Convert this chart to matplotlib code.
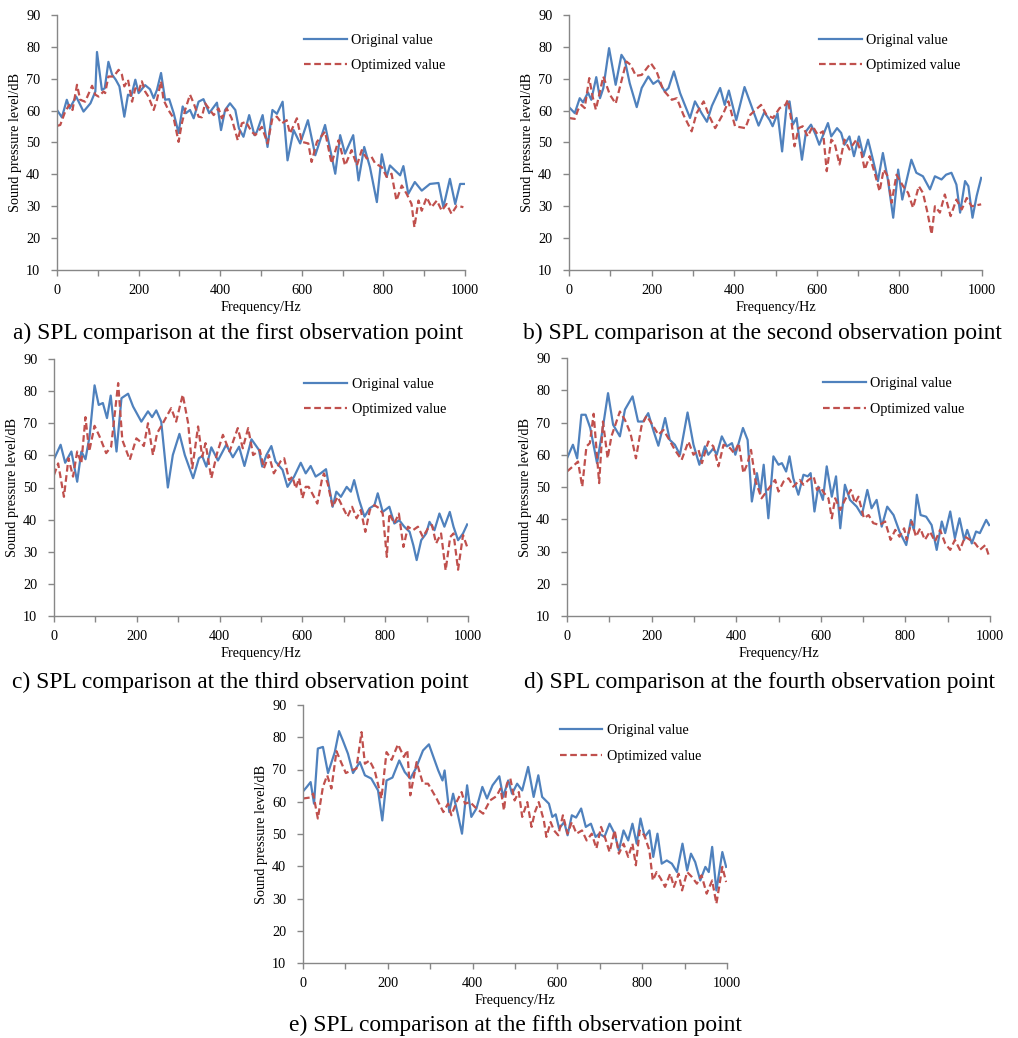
import matplotlib
matplotlib.use("Agg")
import matplotlib.pyplot as plt
from matplotlib.ticker import MultipleLocator

plt.rcParams["font.family"] = ["Liberation Serif", "DejaVu Serif"]

BLUE = "#4F81BD"
RED = "#C0504D"
GREY = "#878787"

# ---- a) first observation point ----
A_ORIG_HZ = [0, 12, 24, 31, 47, 65, 82, 94, 98, 110, 117, 126, 135, 144, 153, 165, 174, 182, 192, 200,
             216, 228, 237, 245, 255, 265, 275, 286, 298, 308, 316, 326, 335, 347, 359, 373, 392, 402, 412, 424,
             437, 446, 457, 471, 484, 490, 504, 516, 528, 539, 553, 565, 580, 596, 615, 633, 657, 682, 694, 706,
             726, 739, 753, 767, 784, 796, 808, 816, 828, 841, 849, 861, 877, 894, 914, 935, 947, 963, 976, 988, 1000]
A_ORIG_DB = [60.2, 57.9, 63.4, 60.7, 64.4, 59.7, 62.3, 66.0, 78.4, 66.5, 67.0, 75.3, 71.3, 69.7, 67.6, 58.1, 65.0, 64.6, 69.7, 65.5,
             68.0, 66.7, 63.9, 66.5, 71.8, 63.4, 63.6, 59.2, 53.0, 61.3, 59.2, 60.2, 57.6, 62.8, 63.6, 59.2, 62.5, 53.9, 60.2, 62.3,
             60.2, 54.4, 51.8, 58.6, 52.3, 53.4, 58.6, 48.6, 60.2, 59.0, 62.8, 44.4, 53.9, 49.7, 57.0, 46.0, 55.5, 40.2, 52.3, 46.5,
             52.3, 38.1, 48.6, 42.3, 31.3, 46.3, 39.2, 42.8, 41.3, 39.7, 42.6, 33.9, 37.6, 34.9, 37.0, 37.3, 29.7, 38.6, 30.7, 37.0, 37.0]
A_OPT_HZ = [0, 8, 20, 30, 38, 49, 57, 69, 86, 94, 102, 114, 118, 126, 139, 151, 159, 165, 174, 184,
            192, 200, 208, 216, 224, 237, 245, 255, 261, 273, 286, 298, 306, 314, 326, 335, 347, 355, 363, 375,
            384, 396, 404, 416, 428, 443, 453, 463, 477,
            486, 502, 516, 528, 539, 551, 563, 571, 588, 600, 616, 624, 637, 657, 673, 690, 706, 722, 735, 747,
            759, 771, 780, 796, 808, 820, 832, 845, 857, 869, 876, 886, 894, 906, 918, 931, 943, 955, 967, 980, 996]
A_OPT_DB = [55.2, 55.5, 59.7, 61.8, 60.2, 68.1, 63.4, 62.8, 67.8, 65.0, 64.4, 66.0, 65.5, 70.7, 70.7, 72.8, 71.3, 67.6, 69.7, 62.8,
            67.0, 66.0, 69.2, 66.0, 64.4, 60.2, 63.4, 69.2, 63.4, 60.2, 57.6, 50.2, 56.0, 60.2, 65.0, 62.3, 58.1, 57.9, 62.3, 60.2,
            58.6, 60.7, 57.6, 60.7, 57.6, 50.7, 56.0, 56.5, 53.4,
            52.3, 54.9, 49.7, 57.6, 58.1, 56.0, 57.0, 52.8, 57.6, 50.2, 49.7, 43.9, 50.2, 53.4, 43.4, 50.7, 42.8, 47.6, 42.8, 47.6,
            45.0, 45.5, 43.4, 42.3, 39.2, 40.2, 31.8, 36.5, 33.9, 30.7, 23.4, 31.8, 28.6, 32.8, 29.7, 31.8, 28.6, 30.7, 27.6, 30.2, 29.7]

# ---- b) second observation point ----
B_ORIG_HZ = [0, 14, 26, 34, 46, 54, 66, 75, 83, 97, 113, 127, 135, 147, 164, 176, 192, 204, 216, 232,
             241, 254, 269, 293, 305, 322, 334, 346, 366, 377, 387, 405, 425, 459, 473, 486,
             493, 505, 516, 527, 534, 542, 551, 564, 574, 586, 597, 606, 627, 635, 649, 659, 667, 679, 690, 702,
             713, 724, 736, 748, 760, 772, 785, 797, 807, 817, 829, 841, 857, 874, 886, 902, 913, 926, 938, 947,
             959, 967, 977, 987, 998]
B_ORIG_DB = [61.1, 59.2, 63.9, 62.6, 65.7, 63.4, 70.5, 63.9, 67.0, 79.6, 68.1, 77.5, 75.9, 68.6, 61.1, 67.1, 70.7, 68.4, 69.5, 66.0,
             67.1, 72.3, 65.5, 57.7, 62.9, 59.0, 56.5, 61.5, 67.1, 61.8, 66.3, 57.0, 67.4, 55.3, 59.5, 57.0,
             55.1, 59.2, 47.2, 61.8, 62.9, 55.6, 57.7, 44.6, 53.5, 55.6, 52.5, 49.3, 56.1, 51.9, 54.5, 53.0, 49.3, 51.9, 45.7, 51.9,
             45.7, 50.9, 44.6, 37.9, 46.7, 38.4, 26.4, 41.5, 32.1, 37.9, 44.6, 40.5, 39.4, 35.3, 39.4, 38.4, 39.9, 40.5, 36.8, 28.0,
             37.9, 36.3, 26.4, 33.2, 38.9]
B_OPT_HZ = [0, 14, 22, 30, 38, 49, 57, 65, 83, 99, 113, 139, 149, 162, 176, 198, 212, 228, 249, 261,
            277, 297, 309, 326, 338, 354, 374, 386, 402, 427, 439, 465,
            478, 494, 510, 524, 530, 538, 546, 556, 566, 578, 590, 602, 615, 624, 635, 643, 655, 667, 679, 696,
            708, 716, 728, 740, 752, 762, 772, 781, 793, 809, 821, 833, 847, 857, 868, 878, 886, 898, 910, 924,
            938, 951, 963, 975, 998]
B_OPT_DB = [57.7, 57.4, 60.3, 61.8, 60.8, 70.2, 64.5, 60.3, 70.7, 65.0, 62.2, 75.4, 74.4, 70.9, 71.2, 74.9, 72.3, 66.5, 63.4, 63.9,
            58.7, 53.5, 59.2, 62.9, 58.7, 54.5, 59.2, 62.9, 55.1, 54.5, 58.7, 61.8,
            58.7, 57.7, 60.8, 61.8, 63.4, 57.2, 48.8, 54.5, 55.1, 51.9, 55.1, 52.5, 53.5, 41.0, 50.9, 49.9, 43.1, 50.9, 47.8, 50.9,
            46.7, 41.5, 45.7, 40.5, 34.7, 41.5, 39.4, 31.1, 39.9, 36.3, 34.2, 29.5, 36.3, 34.2, 28.0, 21.2, 30.0, 28.0, 33.7, 26.9,
            32.1, 29.0, 32.6, 30.0, 30.6]

# ---- c) third observation point ----
C_ORIG_HZ = [0, 16, 27, 42, 56, 66, 76, 86, 98, 108, 118, 128, 137, 151, 163, 179, 191, 211, 227, 237,
             247, 259, 275, 287, 303, 316, 336, 350, 358, 368, 380, 396, 416, 432, 447, 460, 477, 495,
             503, 513, 525, 535, 552, 564, 580, 596, 608, 620, 632, 644, 657, 673, 682, 693, 707, 717, 725, 737,
             750, 762, 774, 782, 794, 810, 822, 834, 846, 859, 868, 876, 887, 899, 907, 919, 931, 943, 956, 965,
             976, 988, 998]
C_ORIG_DB = [58.8, 63.3, 57.7, 61.2, 51.8, 61.2, 58.8, 66.0, 81.8, 75.7, 76.3, 71.6, 78.6, 61.2, 77.8, 79.2, 75.2, 70.5, 73.7, 71.9,
             74.0, 70.5, 50.0, 60.1, 66.7, 60.1, 52.9, 59.1, 59.8, 56.5, 62.5, 58.4, 63.3, 59.4, 62.7, 56.7, 65.0, 61.7,
             56.5, 60.1, 62.9, 58.1, 55.5, 50.2, 53.4, 57.7, 54.4, 56.7, 53.4, 54.4, 55.7, 44.0, 48.7, 47.1, 50.2, 48.7, 52.3, 46.1,
             40.9, 43.5, 44.5, 48.2, 42.4, 44.0, 38.8, 39.8, 37.8, 36.2, 32.0, 27.4, 33.6, 35.7, 39.3, 36.7, 41.9, 37.8, 42.4, 37.8,
             33.6, 35.7, 38.5]
C_OPT_HZ = [0, 10, 24, 35, 46, 56, 66, 76, 85, 98, 110, 126, 138, 155, 165, 183, 199, 208, 217, 227,
            239, 249, 263, 283, 295, 311, 324, 334, 348, 358, 366, 380, 394, 408, 424, 444, 456, 469, 481, 497,
            507, 519, 531, 547, 556, 568, 576, 584, 592, 600, 608, 615, 626, 636, 647, 652, 661, 673, 685, 697,
            709, 720, 731, 741, 752, 763, 774, 786, 794, 804, 810, 822, 833, 844, 855, 867, 879, 891, 903, 913,
            923, 935, 946, 957, 965, 976, 988, 998]
C_OPT_DB = [53.9, 57.5, 47.1, 59.1, 53.4, 61.2, 57.5, 71.9, 61.2, 69.2, 65.9, 60.7, 62.7, 82.5, 64.8, 58.6, 65.3, 64.3, 62.9, 70.0,
            60.1, 66.9, 70.0, 74.7, 70.5, 78.9, 70.0, 56.0, 69.0, 59.6, 63.8, 52.9, 60.7, 66.4, 61.2, 68.5, 62.2, 68.5, 60.1, 61.7,
            56.0, 60.1, 54.4, 58.1, 59.1, 52.3, 53.4, 49.7, 52.9, 46.6, 50.2, 50.2, 47.6, 45.0, 52.3, 54.4, 51.3, 44.0, 47.1, 44.0,
            40.9, 44.0, 40.4, 43.0, 36.2, 43.0, 44.5, 43.5, 41.9, 28.4, 41.9, 38.8, 41.9, 31.5, 37.8, 36.7, 37.8, 34.6, 37.2, 38.3,
            32.6, 35.7, 24.2, 34.6, 35.7, 24.4, 35.2, 31.5]

# ---- d) fourth observation point ----
D_ORIG_HZ = [0, 14, 24, 34, 44, 55, 71, 84, 97, 109, 125, 137, 155, 168, 180, 192, 205, 216, 232, 243,
             255, 267, 285, 299, 313, 326, 334, 346, 354, 366, 378, 390, 398, 416, 427, 437, 449,
             457, 465, 476, 488, 500, 508, 518, 526, 535, 547, 559, 569, 576, 585, 594, 605, 614, 626, 636, 646,
             657, 669, 685, 697, 710, 720, 732, 744, 757, 772, 786, 802, 813, 820, 827, 836, 849, 862, 874, 886,
             894, 906, 917, 928, 939, 946, 957, 967, 976, 991, 998]
D_ORIG_DB = [58.9, 63.1, 58.9, 72.4, 72.4, 68.3, 57.4, 67.7, 79.1, 69.3, 65.7, 74.0, 78.1, 70.3, 70.3, 72.9, 67.2, 62.8, 71.4, 64.6,
             63.1, 60.0, 73.1, 63.1, 56.9, 62.6, 60.0, 62.0, 60.0, 65.7, 62.6, 63.6, 60.0, 68.3, 64.6, 45.5, 54.3,
             48.1, 56.9, 40.3, 59.5, 56.9, 57.4, 54.8, 59.5, 52.7, 47.6, 53.8, 53.3, 54.3, 42.4, 50.1, 46.0, 56.4, 47.0, 53.3, 37.2,
             50.7, 46.0, 43.9, 41.3, 49.1, 43.4, 46.0, 37.7, 43.9, 41.3, 36.2, 32.0, 39.8, 36.7, 47.6, 41.3, 40.8, 38.2, 30.5, 39.3,
             35.7, 42.4, 34.1, 40.3, 33.6, 36.7, 32.5, 36.2, 35.7, 39.8, 38.2]
D_OPT_HZ = [0, 14, 26, 36, 46, 54, 63, 76, 85, 96, 105, 125, 137, 150, 163, 176, 188, 202, 216, 228,
            242, 255, 271, 287, 299, 311, 319, 334, 346, 358, 370, 386, 395, 406, 417, 427, 435, 446, 460,
            480, 492, 500, 512, 524, 535, 550, 559, 571, 583, 591, 598, 608, 618, 626, 634, 646, 657, 671, 681,
            689, 702, 713, 724, 739, 752, 765, 776, 786, 797, 803, 815, 825, 835, 846, 858, 870, 882, 894, 906,
            917, 929, 941, 953, 965, 976, 989, 998]
D_OPT_DB = [54.8, 56.4, 57.9, 50.1, 62.6, 63.6, 72.7, 51.2, 70.3, 58.9, 65.7, 73.4, 70.8, 66.7, 58.9, 68.8, 72.1, 69.3, 66.2, 67.7,
            64.6, 61.5, 58.4, 64.1, 60.0, 61.5, 57.4, 64.1, 62.6, 56.4, 63.1, 62.0, 60.5, 63.6, 54.3, 57.4, 61.5, 51.7, 46.5,
            50.1, 52.2, 48.6, 51.7, 52.7, 50.1, 52.2, 50.7, 52.2, 53.3, 49.1, 50.1, 48.1, 46.5, 40.3, 46.5, 42.9, 46.0, 49.1, 45.0,
            47.0, 40.3, 41.3, 38.8, 38.2, 39.3, 33.6, 36.7, 34.6, 37.2, 33.6, 39.3, 34.6, 37.2, 33.6, 36.2, 33.1, 36.7, 32.5, 30.5,
            33.6, 30.5, 34.6, 33.6, 32.5, 30.5, 32.0, 28.4]

# ---- e) fifth observation point ----
E_ORIG_HZ = [0, 9, 18, 26, 35, 47, 59, 75, 85, 94, 106, 118, 134, 146, 161, 177, 187, 197, 211, 227,
             240, 253, 266, 283, 297, 307, 319, 329, 334, 345, 354, 364, 375, 387, 397, 409, 423, 434, 447, 463,
             472, 484,
             493, 505, 517, 531, 544, 555, 564, 580, 588, 596, 604, 616, 624, 634, 644, 656, 667, 679, 690, 699,
             711, 723, 735, 745, 756, 767, 777, 787, 796, 806, 817, 826, 836, 846, 858, 870, 882, 895, 906, 915,
             925, 937, 949, 957, 965, 975, 989, 998]
E_ORIG_DB = [63.2, 64.6, 66.1, 59.4, 76.5, 77.0, 68.9, 75.4, 81.9, 79.0, 74.9, 68.9, 72.3, 68.2, 67.2, 63.5, 54.2, 66.6, 67.5, 72.8,
             69.2, 67.2, 70.3, 75.9, 77.8, 74.1, 69.7, 66.6, 69.7, 56.8, 62.5, 56.8, 50.1, 65.1, 55.3, 57.9, 64.6, 61.0, 65.1, 67.9,
             61.5, 66.6,
             62.5, 65.6, 63.5, 70.8, 61.5, 68.2, 61.5, 59.4, 55.3, 56.1, 51.7, 53.7, 49.6, 55.8, 55.1, 57.9, 52.2, 53.2, 49.1, 50.1,
             49.1, 53.2, 50.1, 44.9, 51.1, 48.0, 53.2, 47.0, 54.8, 49.1, 51.1, 42.9, 50.1, 40.8, 41.8, 40.8, 38.2, 47.0, 38.7, 43.9,
             41.3, 35.6, 39.8, 38.2, 46.0, 32.5, 44.4, 39.8]
E_OPT_HZ = [0, 16, 24, 35, 47, 57, 67, 79, 88, 101, 114, 126, 138, 146, 157, 169, 185, 197, 209, 224,
            238, 246, 253, 268, 283, 295, 315, 331, 342, 350, 362, 374, 382, 394, 409, 425, 441, 456, 466, 474,
            481,
            489, 499, 509, 517, 529, 539, 547, 556, 568, 574, 584, 592, 602, 613, 624, 634, 645, 658, 669, 681,
            692, 703, 713, 723, 735, 745, 756, 767, 777, 785, 794, 805, 817, 825, 834, 844, 854, 866, 875, 886,
            894, 906, 917, 929, 940, 952, 965, 975, 989, 998]
E_OPT_DB = [61.0, 61.3, 62.5, 54.8, 64.6, 68.2, 64.1, 75.7, 72.8, 68.9, 69.7, 70.3, 81.6, 71.8, 72.8, 69.7, 61.0, 75.4, 73.0, 77.8,
            73.9, 76.0, 62.0, 72.3, 65.6, 65.6, 61.0, 56.8, 59.4, 55.8, 59.9, 63.0, 59.4, 59.9, 57.9, 56.3, 60.4, 61.7, 64.1, 57.3,
            65.6,
            67.2, 60.4, 63.0, 55.3, 59.9, 52.2, 56.8, 59.9, 54.2, 49.1, 53.7, 51.1, 49.6, 55.8, 50.1, 53.7, 50.1, 51.1, 48.0, 50.1,
            45.5, 52.2, 48.6, 44.4, 51.1, 43.9, 47.0, 42.9, 47.0, 40.3, 51.1, 49.6, 44.9, 35.6, 38.2, 36.1, 33.6, 37.7, 33.6, 37.7,
            32.5, 38.2, 36.7, 34.6, 37.2, 31.5, 35.6, 28.4, 39.8, 35.1]

CAPTIONS = [
    "a) SPL comparison at the first observation point",
    "b) SPL comparison at the second observation point",
    "c) SPL comparison at the third observation point",
    "d) SPL comparison at the fourth observation point",
    "e) SPL comparison at the fifth observation point",
]

W, H = 1018, 1038


def px_rect(left, top, right, bottom):
    return [left / W, 1 - bottom / H, (right - left) / W, (bottom - top) / H]


def draw_panel(fig, rect, orig_hz, orig_db, opt_hz, opt_db):
    ax = fig.add_axes(rect)
    ax.plot(orig_hz, orig_db, color=BLUE, lw=1.6, label="Original value",
            solid_joinstyle="round")
    ax.plot(opt_hz, opt_db, color=RED, lw=1.6, ls=(0, (3, 1.6)), label="Optimized value",
            dash_joinstyle="round")
    ax.set_xlim(0, 1000)
    ax.set_ylim(10, 90)
    ax.xaxis.set_major_locator(MultipleLocator(200))
    ax.xaxis.set_minor_locator(MultipleLocator(100))
    ax.yaxis.set_major_locator(MultipleLocator(10))
    for side in ("top", "right"):
        ax.spines[side].set_visible(False)
    for side in ("left", "bottom"):
        ax.spines[side].set_color(GREY)
        ax.spines[side].set_linewidth(1.0)
    ax.tick_params(which="both", direction="out", length=4, width=1.0, color=GREY,
                   labelsize=10.3)
    ax.tick_params(axis="y", pad=8)
    ax.tick_params(axis="x", pad=6)
    ax.set_xlabel("Frequency/Hz", fontsize=10.3, labelpad=3)
    ax.set_ylabel("Sound pressure level/dB", fontsize=10.3, labelpad=3)
    ax.legend(loc="upper left", bbox_to_anchor=(0.605, 0.925), frameon=False,
              fontsize=10.3, handlelength=3.0, handletextpad=0.3, labelspacing=0.85,
              borderaxespad=0, borderpad=0)
    return ax


fig = plt.figure(figsize=(W / 100, H / 100), dpi=100)

draw_panel(fig, px_rect(57, 15, 465, 270), A_ORIG_HZ, A_ORIG_DB, A_OPT_HZ, A_OPT_DB)
draw_panel(fig, px_rect(569, 15, 982, 270), B_ORIG_HZ, B_ORIG_DB, B_OPT_HZ, B_OPT_DB)
draw_panel(fig, px_rect(54, 359, 468, 616), C_ORIG_HZ, C_ORIG_DB, C_OPT_HZ, C_OPT_DB)
draw_panel(fig, px_rect(567, 358, 990, 616), D_ORIG_HZ, D_ORIG_DB, D_OPT_HZ, D_OPT_DB)
draw_panel(fig, px_rect(303, 705, 727, 963), E_ORIG_HZ, E_ORIG_DB, E_OPT_HZ, E_OPT_DB)

cap_pos = [(238, 333), (762, 333), (240, 682), (760, 682), (515, 1025)]
for text, (cx, cy) in zip(CAPTIONS, cap_pos):
    fig.text(cx / W, 1 - cy / H, text, fontsize=16.9, ha="center", va="center")

fig.savefig("out.png", dpi=100)
